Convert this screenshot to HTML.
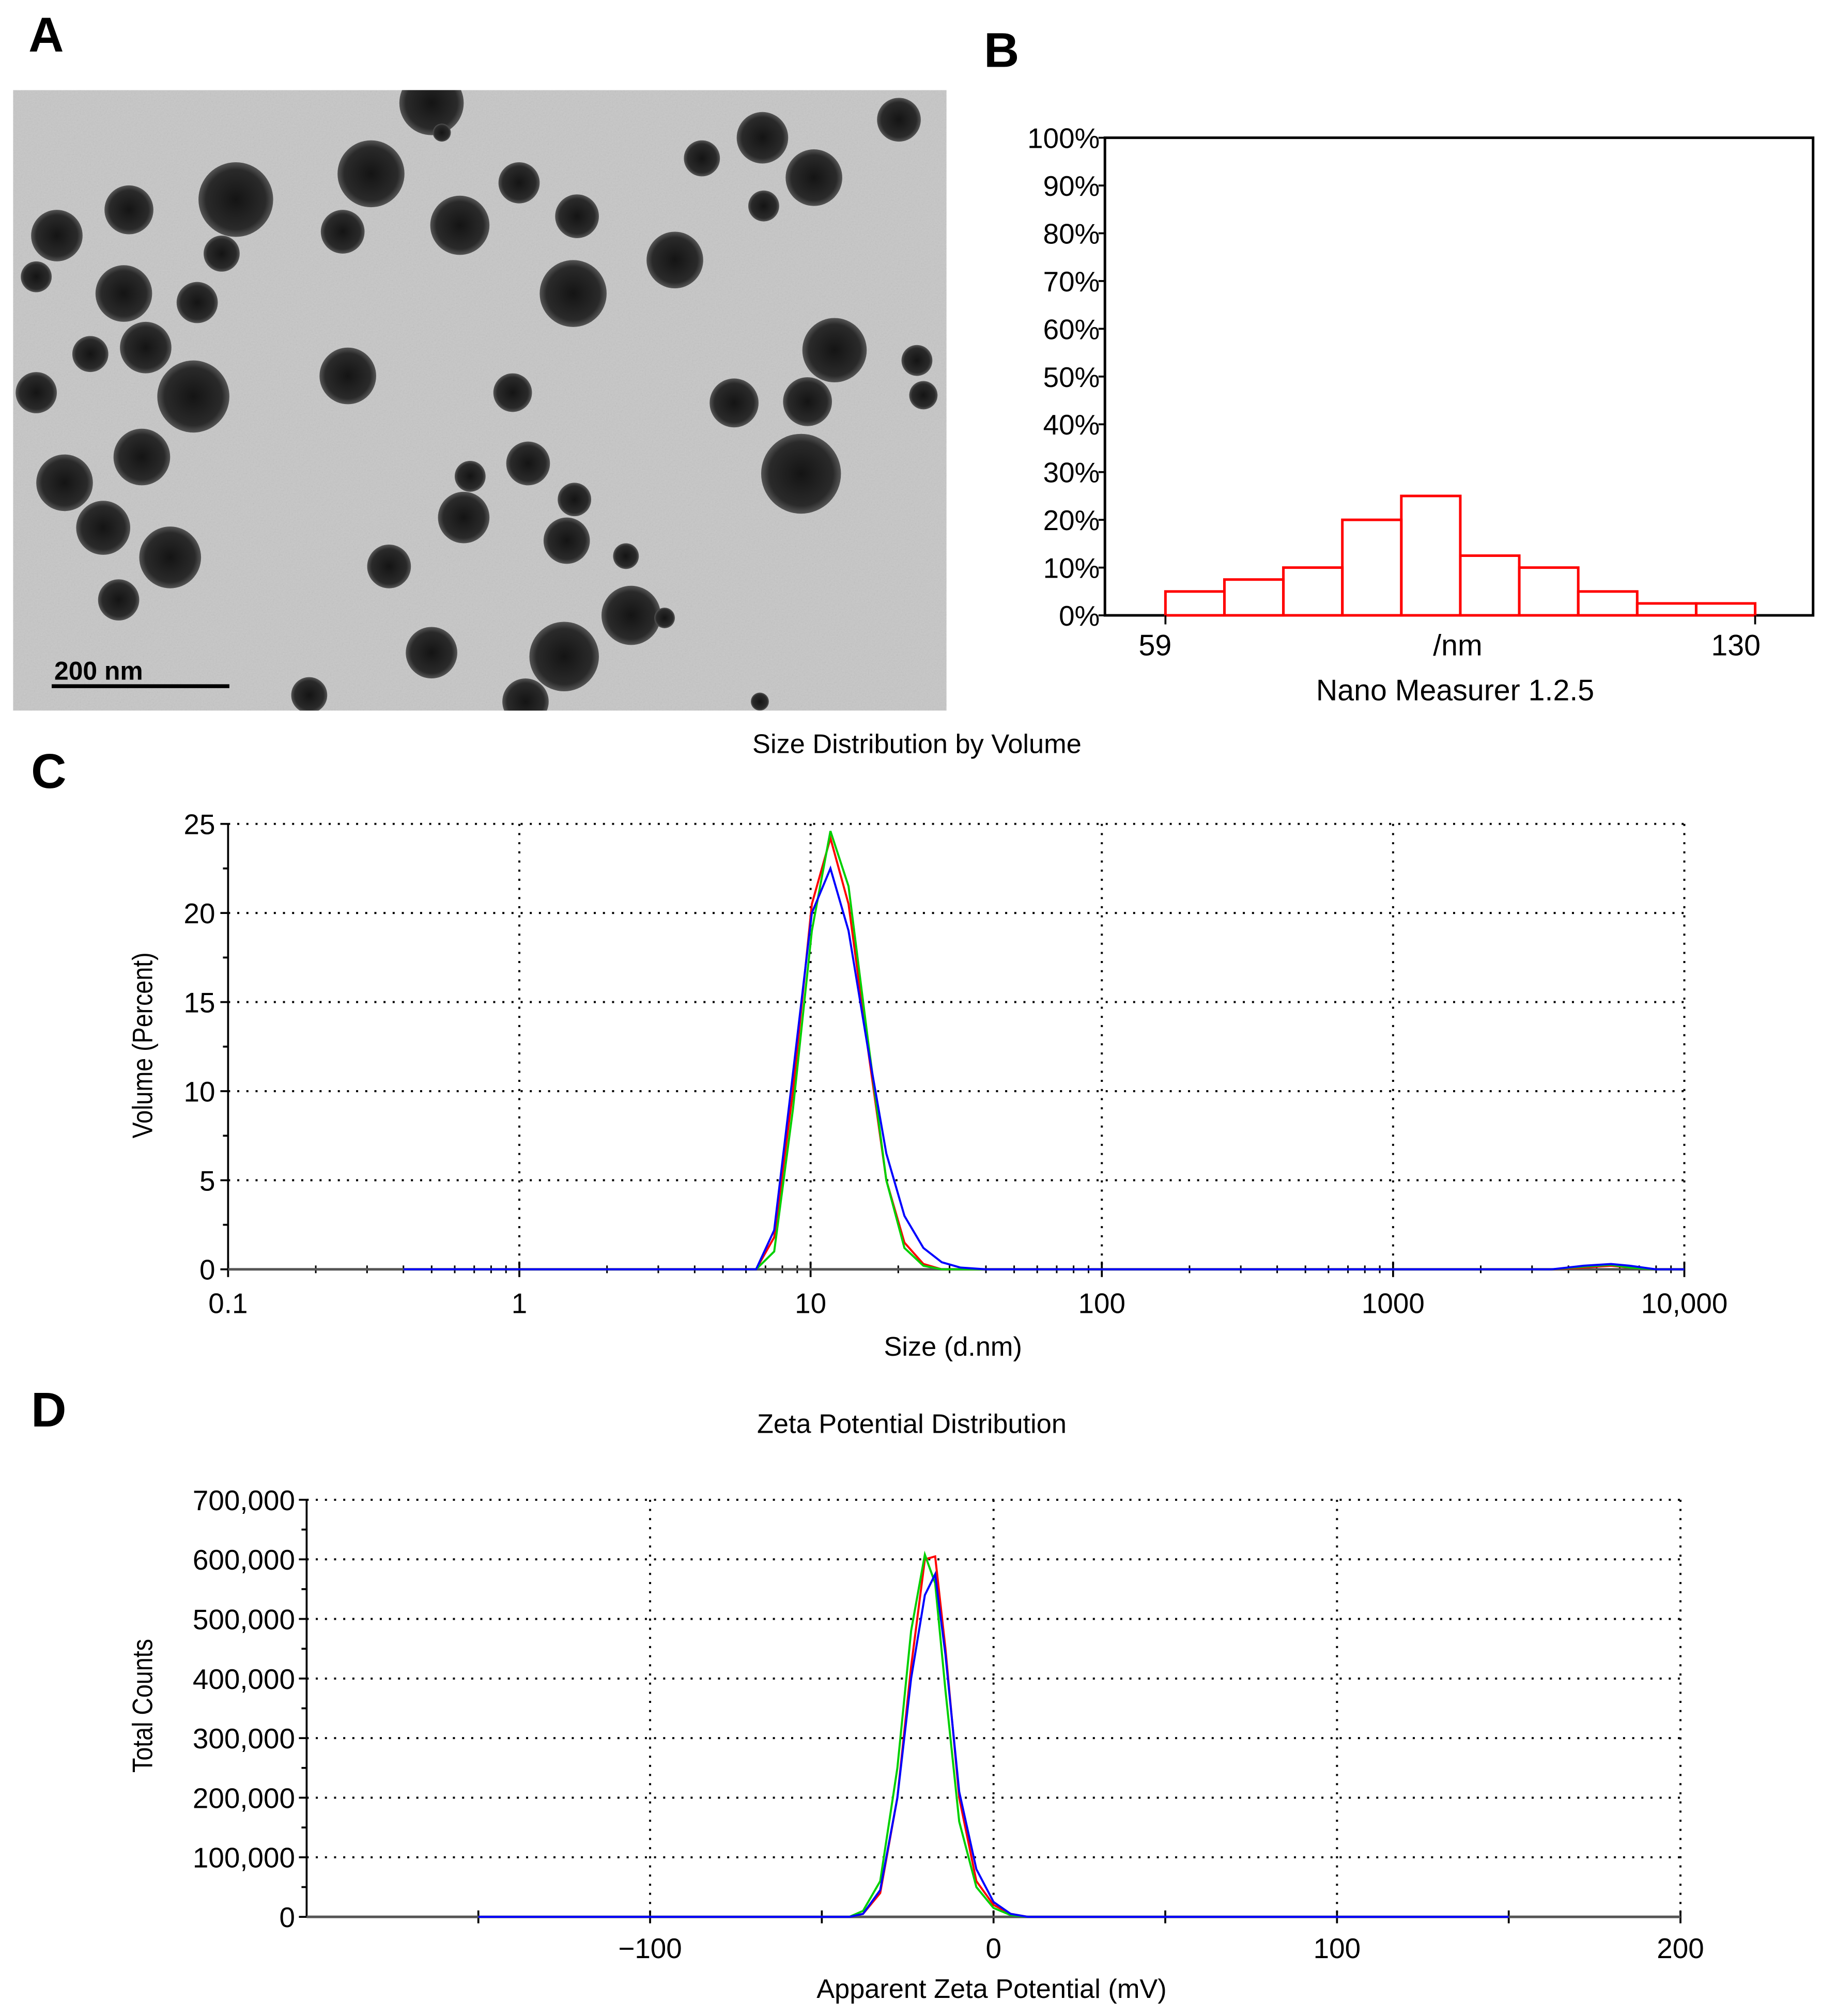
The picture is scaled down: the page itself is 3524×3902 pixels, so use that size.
<!DOCTYPE html>
<html><head><meta charset="utf-8"><style>
html,body{margin:0;padding:0;background:#fff}
svg{display:block}
text{font-family:"Liberation Sans",sans-serif}
</style></head><body>
<svg id="root" width="3524" height="3902" viewBox="0 0 1414 1566" xmlns="http://www.w3.org/2000/svg">
<defs>
<filter id="noise" x="0" y="0" width="1" height="1"><feTurbulence type="fractalNoise" baseFrequency="0.9" numOctaves="2" result="n"/><feColorMatrix type="saturate" values="0"/><feComponentTransfer><feFuncA type="table" tableValues="0 0.18"/></feComponentTransfer></filter>
<radialGradient id="dot"><stop offset="0" stop-color="#141414"/><stop offset="0.8" stop-color="#2a2a2a"/><stop offset="1" stop-color="#555"/></radialGradient>
<clipPath id="temclip"><rect x="10" y="70" width="725" height="482"/></clipPath>
</defs>
<text x="22" y="40" font-size="38" font-weight="bold">A</text>
<text x="764" y="52" font-size="38" font-weight="bold">B</text>
<text x="24" y="612" font-size="38" font-weight="bold">C</text>
<text x="24" y="1108" font-size="38" font-weight="bold">D</text>
<g id="tem" clip-path="url(#temclip)">
<rect x="10" y="70" width="725" height="482" fill="#c6c6c6"/>
<rect x="10" y="70" width="725" height="482" filter="url(#noise)"/>
</g>
<g id="panelB"></g>
<g id="panelC"></g>
<g id="panelD"></g>
</svg>
<script>
// ---------- Panel B data ----------
const histBins = ["59-66","66-73","73-80","80-87","87-94","94-101","101-108","108-115","115-122","122-130"];
const histValues = [5, 7.5, 10, 20, 25, 12.5, 10, 5, 2.5, 2.5];
const histYTicks = ["0%","10%","20%","30%","40%","50%","60%","70%","80%","90%","100%"];
// ---------- Panel C data ----------
const sizeX = [0.4, 6.5, 7.5, 8.7, 10.1, 11.7, 13.5, 15.7, 18.2, 21, 24.4, 28.2, 32.7, 40, 100, 1000, 3500, 4500, 5600, 6500, 8000, 10000];
const sizeRed = [0, 0, 1.8, 10, 20.5, 24.2, 20.5, 12.5, 5, 1.5, 0.3, 0, 0, 0, 0, 0, 0, 0.1, 0.2, 0.1, 0, 0];
const sizeGreen = [0, 0, 1, 9, 19, 24.6, 21.5, 13, 5, 1.2, 0.2, 0, 0, 0, 0, 0, 0, 0.15, 0.25, 0.1, 0, 0];
const sizeBlue = [0, 0, 2.2, 11, 20, 22.5, 19, 12.5, 6.5, 3, 1.2, 0.4, 0.1, 0, 0, 0, 0, 0.2, 0.3, 0.2, 0, 0];
const sizeYTicks = [0, 5, 10, 15, 20, 25];
const sizeXTicks = [0.1, 1, 10, 100, 1000, 10000];
const sizeXTickLabels = ["0.1", "1", "10", "100", "1000", "10,000"];
// ---------- Panel D data ----------
const zetaX = [-150, -42, -38, -33, -28, -24, -20, -17, -14, -10, -5, 0, 5, 10, 150];
const zetaRed = [0, 0, 5000, 40000, 200000, 420000, 600000, 605000, 450000, 200000, 60000, 20000, 5000, 0, 0];
const zetaGreen = [0, 0, 10000, 60000, 250000, 480000, 608000, 560000, 380000, 160000, 50000, 15000, 3000, 0, 0];
const zetaBlue = [0, 0, 5000, 45000, 200000, 400000, 540000, 575000, 440000, 210000, 80000, 25000, 5000, 0, 0];
const zetaYTicks = [0, 100000, 200000, 300000, 400000, 500000, 600000, 700000];
const zetaXTicks = [-100, 0, 100, 200];

const NS = "http://www.w3.org/2000/svg";
function mk(parent, tag, attrs, txt) {
  const e = document.createElementNS(NS, tag);
  for (const k in attrs) e.setAttribute(k, attrs[k]);
  if (txt !== undefined) e.textContent = txt;
  parent.appendChild(e);
  return e;
}

// ---------- TEM particles ----------
const tem = document.getElementById('tem');
const circles = [[335,80,25],[343,103,7],[592,107,20],[698,93,17],[545,123,14],[632,138,22],[288,135,26],[183,155,29],[100,163,19],[44,183,20],[403,142,16],[357,175,23],[448,168,17],[266,180,17],[593,160,12],[524,202,22],[445,228,26],[172,197,14],[96,228,22],[28,215,12],[153,235,16],[113,270,20],[70,275,14],[648,272,25],[712,280,12],[270,292,22],[150,308,28],[28,305,16],[398,305,15],[570,313,19],[627,312,19],[717,307,11],[110,355,22],[50,375,22],[410,360,17],[365,370,12],[622,368,31],[446,388,13],[360,402,20],[80,410,21],[132,433,24],[440,420,18],[486,432,10],[302,440,17],[92,466,16],[490,478,23],[335,507,20],[438,510,27],[516,480,8],[240,540,14],[408,545,18],[590,545,7]];
for (const c of circles) {
  const el = mk(tem, 'circle', {cx:c[0], cy:c[1], r:c[2], fill:'url(#dot)'});
  
  
}
const sbt = mk(tem, 'text', {x:42, y:528, 'font-size':20, 'font-weight':'bold', fill:'#000'}, '200 nm');


const sbl = mk(tem, 'line', {x1:40, x2:178, y1:533, y2:533, stroke:'#000', 'stroke-width':3});



// ---------- Panel B ----------
(function(){
  const g = document.getElementById('panelB');
  const L = 858, R = 1408, T = 107, B = 478;
  const x0 = 905, x1 = 1363;
  const y = v => B - (v / 100) * (B - T);
  const bw = (x1 - x0) / histBins.length;
  mk(g, 'rect', {x:L, y:T, width:R-L, height:B-T, fill:'none', stroke:'#000', 'stroke-width':2});
  histYTicks.forEach((t, i) => {
    const yy = y(i * 10);
    mk(g, 'line', {x1:L-5, x2:L, y1:yy, y2:yy, stroke:'#000', 'stroke-width':1.5});
    const tx = mk(g, 'text', {x:L-4, y:yy+8, 'font-size':22, 'text-anchor':'end'}, t);
    
    
  });
  histValues.forEach((v, i) => {
    const r = mk(g, 'rect', {x:x0 + i*bw, y:y(v), width:bw, height:B - y(v), fill:'none', stroke:'#ff0000', 'stroke-width':2});
    
    
  });
  [x0, x1].forEach(xx => mk(g, 'line', {x1:xx, x2:xx, y1:B, y2:B+7, stroke:'#000', 'stroke-width':1.5}));
  let t = mk(g, 'text', {x:x0-8, y:509, 'font-size':23, 'text-anchor':'middle'}, '59');
   
  t = mk(g, 'text', {x:x1-15, y:509, 'font-size':23, 'text-anchor':'middle'}, '130');
   
  t = mk(g, 'text', {x:1132, y:509, 'font-size':23, 'text-anchor':'middle'}, '/nm');
   
  t = mk(g, 'text', {x:1130, y:544, 'font-size':23, 'text-anchor':'middle'}, 'Nano Measurer 1.2.5');
   
})();

// ---------- Panel C ----------
(function(){
  const g = document.getElementById('panelC');
  const L = 177, R = 1308, T = 640, B = 986;
  const x = v => L + (Math.log10(v) + 1) / 5 * (R - L);
  const y = v => B - v / 25 * (B - T);
  let t = mk(g, 'text', {x:712, y:585, 'font-size':21, 'text-anchor':'middle'}, 'Size Distribution by Volume');
   
  sizeYTicks.forEach(v => {
    if (v > 0) mk(g, 'line', {x1:L, x2:R, y1:y(v), y2:y(v), stroke:'#000', 'stroke-width':1.6, 'stroke-dasharray':'1.6 5.5'});
    mk(g, 'line', {x1:L-6, x2:L, y1:y(v), y2:y(v), stroke:'#000', 'stroke-width':1.5});
    const tx = mk(g, 'text', {x:L-10, y:y(v)+8, 'font-size':22, 'text-anchor':'end'}, String(v));
     
  });
  for (let v = 2.5; v < 25; v += 5) mk(g, 'line', {x1:L-4, x2:L, y1:y(v), y2:y(v), stroke:'#000', 'stroke-width':1.5});
  sizeXTicks.forEach((v, i) => {
    if (i > 0) mk(g, 'line', {x1:x(v), x2:x(v), y1:T, y2:B, stroke:'#000', 'stroke-width':1.6, 'stroke-dasharray':'1.6 5.5'});
    mk(g, 'line', {x1:x(v), x2:x(v), y1:B-6, y2:B+6, stroke:'#000', 'stroke-width':1.5});
    const tx = mk(g, 'text', {x:x(v), y:1020, 'font-size':22, 'text-anchor':'middle'}, sizeXTickLabels[i]);
     
  });
  for (let d = -1; d < 4; d++) for (let m = 2; m < 10; m++) {
    const xx = x(m * Math.pow(10, d));
    mk(g, 'line', {x1:xx, x2:xx, y1:B-3, y2:B+3, stroke:'#000', 'stroke-width':1.2});
  }
  mk(g, 'line', {x1:L, x2:L, y1:T, y2:B, stroke:'#000', 'stroke-width':1.5});
  mk(g, 'line', {x1:L, x2:R, y1:B, y2:B, stroke:'#555', 'stroke-width':2});
  t = mk(g, 'text', {x:740, y:1053, 'font-size':21, 'text-anchor':'middle'}, 'Size (d.nm)');
   
  t = mk(g, 'text', {x:0, y:0, 'font-size':22, 'text-anchor':'middle', transform:'translate(118,812) rotate(-90) scale(0.85,1)'}, 'Volume (Percent)');
   
  const series = [[sizeRed,'#ff0000','series-red'],[sizeGreen,'#00d000','series-green'],[sizeBlue,'#0000ff','series-blue']];
  series.forEach(s => {
    const pts = sizeX.map((v, i) => x(v).toFixed(2) + ',' + y(s[0][i]).toFixed(2)).join(' ');
    const p = mk(g, 'polyline', {points:pts, fill:'none', stroke:s[1], 'stroke-width':1.6});
    
    
  });
})();

// ---------- Panel D ----------
(function(){
  const g = document.getElementById('panelD');
  const L = 238, R = 1305, T = 1165, B = 1489;
  const x = v => L + (v + 200) / 400 * (R - L);
  const y = v => B - v / 700000 * (B - T);
  let t = mk(g, 'text', {x:708, y:1113, 'font-size':21, 'text-anchor':'middle'}, 'Zeta Potential Distribution');
   
  zetaYTicks.forEach(v => {
    if (v > 0) mk(g, 'line', {x1:L, x2:R, y1:y(v), y2:y(v), stroke:'#000', 'stroke-width':1.6, 'stroke-dasharray':'1.6 5.5'});
    mk(g, 'line', {x1:L-6, x2:L, y1:y(v), y2:y(v), stroke:'#000', 'stroke-width':1.5});
    const lbl = v === 0 ? '0' : v.toLocaleString('en-US');
    const tx = mk(g, 'text', {x:L-9, y:y(v)+8, 'font-size':22, 'text-anchor':'end'}, lbl);
     
  });
  for (let v = 50000; v < 700000; v += 100000) mk(g, 'line', {x1:L-4, x2:L, y1:y(v), y2:y(v), stroke:'#000', 'stroke-width':1.5});
  zetaXTicks.forEach(v => {
    mk(g, 'line', {x1:x(v), x2:x(v), y1:T, y2:B, stroke:'#000', 'stroke-width':1.6, 'stroke-dasharray':'1.6 5.5'});
    const tx = mk(g, 'text', {x:x(v), y:1521, 'font-size':22, 'text-anchor':'middle'}, v < 0 ? '\u2212' + Math.abs(v) : String(v));
     
  });
  for (let v = -150; v <= 200; v += 50) mk(g, 'line', {x1:x(v), x2:x(v), y1:B-5, y2:B+5, stroke:'#000', 'stroke-width':1.5});
  mk(g, 'line', {x1:L, x2:L, y1:T, y2:B, stroke:'#000', 'stroke-width':1.5});
  mk(g, 'line', {x1:L, x2:R, y1:B, y2:B, stroke:'#555', 'stroke-width':2});
  t = mk(g, 'text', {x:770, y:1552, 'font-size':21, 'text-anchor':'middle'}, 'Apparent Zeta Potential (mV)');
   
  t = mk(g, 'text', {x:0, y:0, 'font-size':22, 'text-anchor':'middle', transform:'translate(118,1325) rotate(-90) scale(0.85,1)'}, 'Total Counts');
   
  const series = [[zetaRed,'#ff0000','series-red'],[zetaGreen,'#00d000','series-green'],[zetaBlue,'#0000ff','series-blue']];
  series.forEach(s => {
    const pts = zetaX.map((v, i) => x(v).toFixed(2) + ',' + y(s[0][i]).toFixed(2)).join(' ');
    const p = mk(g, 'polyline', {points:pts, fill:'none', stroke:s[1], 'stroke-width':1.6});
    
    
  });
})();
</script>
</body></html>
